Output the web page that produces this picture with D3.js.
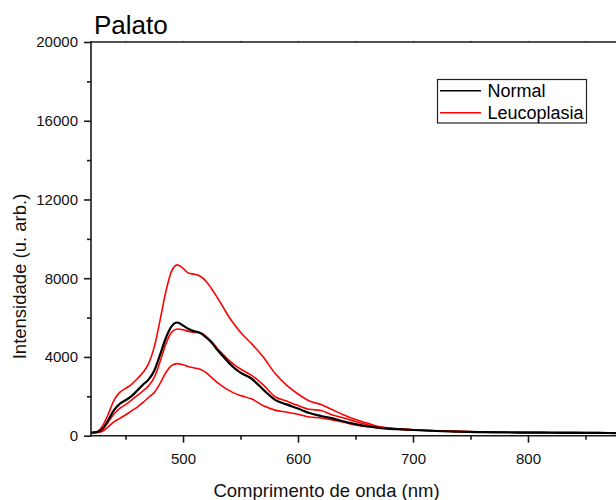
<!DOCTYPE html>
<html>
<head>
<meta charset="utf-8">
<script src="https://cdn.jsdelivr.net/npm/d3@7"></script>
<style>
  html, body { margin: 0; padding: 0; background: #fff; overflow: hidden; }
  svg { display: block; font-family: "Liberation Sans", Arial, sans-serif; }
</style>
</head>
<body>
<svg id="chart" width="616" height="500"></svg>
<script>
// Wavelength grid (nm)
const wavelength = [420,425,430,435,440,445,450,455,460,465,470,475,480,485,490,495,500,505,510,515,520,525,530,535,540,545,550,560,570,580,590,600,610,620,630,640,650,660,670,680,690,700,720,740,760,780,800,820,840,860,880,900];

// Normal tissue spectrum
const normal = [150,180,350,800,1300,1620,1800,2000,2280,2580,2850,3300,4100,4950,5550,5750,5600,5420,5300,5220,5000,4720,4350,4020,3700,3420,3200,2880,2330,1820,1590,1380,1150,1000,880,720,590,480,400,350,320,290,240,205,180,165,155,150,145,140,135,130];

// Leucoplasia spectra
const leucoHigh = [150,200,500,1100,1800,2200,2400,2600,2880,3200,3650,4500,5850,7300,8350,8680,8500,8250,8200,8100,7850,7450,7000,6520,6030,5620,5250,4650,3980,3170,2570,2120,1760,1580,1320,1050,820,640,460,390,340,300,250,215,195,180,170,165,160,155,150,145];
const leucoMid = [150,170,300,700,1100,1390,1580,1800,2030,2270,2520,2960,3750,4650,5250,5420,5380,5300,5250,5230,5050,4780,4420,4120,3830,3590,3390,3050,2570,1980,1760,1530,1340,1280,1050,900,720,560,440,380,330,300,250,215,190,175,165,160,155,150,145,140];
const leucoLow = [150,160,230,450,700,880,1050,1250,1440,1680,1940,2200,2650,3200,3560,3660,3600,3500,3440,3370,3200,2950,2700,2480,2300,2150,2040,1860,1520,1300,1200,1090,950,900,800,680,550,460,410,360,320,290,245,210,190,175,165,160,155,150,145,140];

// Axis ticks
const yMajor = [0,4000,8000,12000,16000,20000];
const yMinor = [2000,6000,10000,14000,18000];
const xMajor = [500,600,700,800];
const xMinor = [450,550,650,750,850];

const legendLabels = ["Normal", "Leucoplasia"];

const svg = d3.select("#chart");
const plotLeft = 91, plotTop = 42, plotBottom = 435.7;
const x = d3.scaleLinear().domain([420, 900]).range([plotLeft, plotLeft + 480 * 1.15]);
const y = d3.scaleLinear().domain([0, 20000]).range([plotBottom, plotTop]);

const axisColor = "#1a1a1a";

// Curves
const line = (vals) => d3.line()
  .x((d, i) => x(wavelength[i]))
  .y(d => y(d))
  .curve(d3.curveMonotoneX)(vals);

const plot = svg.append("g");
[leucoLow, leucoMid, leucoHigh].forEach(s => {
  plot.append("path").attr("d", line(s))
    .attr("fill", "none").attr("stroke", "#ff0000").attr("stroke-width", 1.6);
});
plot.append("path").attr("d", line(normal))
  .attr("fill", "none").attr("stroke", "#000").attr("stroke-width", 2.2);

// Left axis
const yAx = svg.append("g").attr("transform", `translate(${plotLeft},0)`)
  .call(d3.axisLeft(y).tickValues(yMajor).tickSize(7).tickSizeOuter(0).tickPadding(6).tickFormat(d3.format("d")));
const yMin = svg.append("g").attr("transform", `translate(${plotLeft},0)`)
  .call(d3.axisLeft(y).tickValues(yMinor).tickSize(4).tickFormat(""));
yMin.select(".domain").remove();

// Bottom axis
const xAx = svg.append("g").attr("transform", `translate(0,${plotBottom})`)
  .call(d3.axisBottom(x).tickValues(xMajor).tickSize(7).tickSizeOuter(0).tickPadding(11).tickFormat(d3.format("d")));
const xMin = svg.append("g").attr("transform", `translate(0,${plotBottom})`)
  .call(d3.axisBottom(x).tickValues(xMinor).tickSize(4).tickFormat(""));
xMin.select(".domain").remove();

// Top axis (frame)
const tAx = svg.append("g").attr("transform", `translate(0,${plotTop})`)
  .call(d3.axisTop(x).tickValues(xMajor.concat(xMinor)).tickSize(1).tickSizeOuter(0).tickFormat(""));

[yAx, yMin, xAx, xMin, tAx].forEach(g => {
  g.selectAll("path, line").attr("stroke", axisColor).attr("stroke-width", 1.6);
  g.selectAll("text").attr("fill", "#111").style("font-size", "15px")
    .style("font-family", "'Liberation Sans', Arial, sans-serif");
});
// Frame lines span the full plot edges
yAx.select(".domain").attr("d", `M0,${plotBottom + 0.8}V${plotTop - 0.8}`);
xAx.select(".domain").attr("d", `M${plotLeft - 0.8},0H${x(900)}`);
tAx.select(".domain").attr("d", `M${plotLeft - 0.8},0H${x(900)}`);

// Titles
svg.append("text").attr("x", 94).attr("y", 34)
  .style("font-size", "26px").attr("fill", "#000").text("Palato");

svg.append("text")
  .attr("transform", `translate(26,${276.5}) rotate(-90)`)
  .attr("text-anchor", "middle")
  .style("font-size", "18.5px").attr("fill", "#111")
  .text("Intensidade (u. arb.)");

svg.append("text").attr("x", 326.5).attr("y", 497)
  .attr("text-anchor", "middle")
  .style("font-size", "18.5px").attr("fill", "#111")
  .text("Comprimento de onda (nm)");

// Legend
const lg = svg.append("g");
lg.append("rect").attr("x", 437.5).attr("y", 79.5).attr("width", 149).attr("height", 43.5)
  .attr("fill", "#fff").attr("stroke", "#222").attr("stroke-width", 1.2);
const legendColors = ["#000", "#ff0000"];
legendLabels.forEach((lab, i) => {
  const ly = 90.7 + i * 22;
  lg.append("line").attr("x1", 440).attr("x2", 481).attr("y1", ly).attr("y2", ly)
    .attr("stroke", legendColors[i]).attr("stroke-width", 1.4);
  lg.append("text").attr("x", 487.5).attr("y", ly + 6.3)
    .style("font-size", "18px").attr("fill", "#000").text(lab);
});
</script>
</body>
</html>
